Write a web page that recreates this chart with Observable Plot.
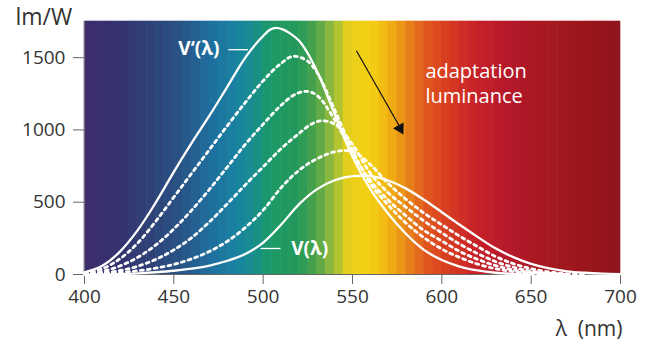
<!DOCTYPE html>
<html>
<head>
<meta charset="utf-8">
<script src="https://cdn.jsdelivr.net/npm/d3@7"></script>
<script src="https://cdn.jsdelivr.net/npm/@observablehq/plot@0.6"></script>
<style>
  html, body { margin: 0; padding: 0; background: #fff; }
  #chart { width: 653px; height: 348px; }
</style>
</head>
<body>
<div id="chart"></div>
<script>
// ---- axis ticks ----
const xTicks = [400, 450, 500, 550, 600, 650, 700];
const yTicks = [0, 500, 1000, 1500];

// ---- spectrum background colour stops ----
const specStops  = [400, 420, 440, 455, 470, 485, 495, 505, 520, 530, 540, 548, 560, 570, 580, 592, 605, 620, 640, 660, 680, 700];
const specColors = ["#3e2c6c", "#35336f", "#2d4479", "#285486", "#1f6e9d", "#1a82a2", "#178e8e", "#1c9a66", "#23985a", "#4ea448", "#9dbd3c", "#e8cf1c", "#f5d213", "#f1b515", "#e98a18", "#e0561e", "#d63a20", "#c6212a", "#b3182a", "#a5181f", "#9a161c", "#8e141b"];
const bandStep = 5;

// ---- V'(λ) scotopic (lm/W) ----
const scotWl  = [400, 410, 420, 430, 440, 450, 460, 470, 480, 490, 500, 504, 507, 511, 515, 520, 530, 540, 550, 560, 570, 580, 590, 600, 610, 620, 630, 640, 650];
const scotVal = [15, 60, 160, 310, 500, 710, 910, 1100, 1300, 1500, 1650, 1694, 1706, 1696, 1668, 1618, 1410, 1110, 815, 590, 420, 280, 170, 100, 55, 28, 12, 4, 0];

// ---- V(λ) photopic (lm/W) ----
const photWl  = [400, 410, 420, 430, 440, 450, 460, 470, 480, 490, 500, 510, 520, 530, 540, 550, 555, 560, 570, 580, 590, 600, 610, 620, 630, 640, 650, 660, 670, 680, 690, 700];
const photVal = [0.3, 0.8, 2.7, 7.9, 15.7, 26, 41, 62, 95, 142, 221, 344, 485, 589, 652, 680, 683, 680, 650, 594, 517, 431, 344, 260, 181, 120, 73, 42, 22, 12, 6, 3];

// ---- mesopic (dashed) curves, decreasing adaptation luminance ----
const mes1Wl  = [400, 410, 420, 430, 440, 450, 460, 470, 480, 490, 500, 510, 517, 525, 530, 540, 550, 560, 570, 580, 590, 600, 610, 620, 630, 640, 650, 660, 670];
const mes1Val = [10, 40, 110, 220, 370, 535, 700, 865, 1030, 1190, 1340, 1460, 1510, 1475, 1400, 1140, 860, 630, 480, 355, 255, 176, 118, 72, 40, 20, 8, 2, 0];

const mes2Wl  = [400, 410, 420, 430, 440, 450, 460, 470, 480, 490, 500, 510, 517, 524, 530, 540, 550, 560, 570, 580, 590, 600, 610, 620, 630, 640, 650, 660, 670];
const mes2Val = [6, 22, 60, 120, 205, 315, 445, 590, 745, 900, 1040, 1170, 1240, 1267, 1240, 1070, 840, 650, 515, 405, 305, 232, 160, 105, 62, 32, 14, 4, 0];

const mes3Wl  = [400, 410, 420, 430, 440, 450, 460, 470, 480, 490, 500, 510, 520, 527, 533, 540, 550, 560, 570, 580, 590, 600, 610, 620, 630, 640, 650, 660, 670];
const mes3Val = [3, 10, 28, 58, 105, 170, 255, 365, 490, 620, 745, 870, 975, 1040, 1064, 1040, 900, 700, 565, 465, 370, 288, 210, 145, 90, 50, 24, 8, 0];

const mes4Wl  = [400, 410, 420, 430, 440, 450, 460, 470, 480, 490, 500, 510, 520, 530, 540, 545, 550, 560, 570, 580, 590, 600, 610, 620, 630, 640, 650, 660, 670, 680];
const mes4Val = [2, 6, 14, 26, 44, 70, 108, 160, 230, 325, 445, 600, 720, 800, 848, 857, 850, 760, 630, 520, 425, 344, 265, 193, 125, 75, 40, 18, 5, 0];

// ---- build tables ----
const zip = (wl, v) => wl.map((w, i) => ({ wl: w, v: v[i] }));
const scot = zip(scotWl, scotVal);
const phot = zip(photWl, photVal);
const dashed = [zip(mes1Wl, mes1Val), zip(mes2Wl, mes2Val), zip(mes3Wl, mes3Val), zip(mes4Wl, mes4Val)];

const specScale = d3.scaleLinear().domain(specStops).range(specColors).interpolate(d3.interpolateRgb);
const bands = d3.range(specStops[0], specStops[specStops.length - 1], bandStep)
  .map(w => ({ x1: w, x2: w + bandStep, color: specScale(w + bandStep / 2) }));

const FONT = "'Open Sans', 'Noto Sans', sans-serif";
const TXT = "#333";
const CURVE = "monotone-x";

const marks = [
  Plot.rectY(bands, { x1: "x1", x2: "x2", y1: 0, y2: 1750, fill: "color", inset: -0.3 }),
  Plot.ruleX([400], { stroke: "#777", strokeWidth: 1 }),
  Plot.axisX({ ticks: xTicks, tickSize: 10, tickPadding: 5, tickFormat: d => String(d), fontSize: 19, color: TXT, stroke: "#666", label: null }),
  Plot.axisY({ ticks: yTicks, tickSize: 11, tickPadding: 8, tickFormat: d => String(d), fontSize: 19, color: TXT, stroke: "#666", label: null }),
  Plot.ruleY([0], { stroke: "#666", strokeWidth: 1.2 }),
  ...dashed.map(d => Plot.line(d, { x: "wl", y: "v", stroke: "white", strokeWidth: 2.8, strokeDasharray: "3,4", curve: CURVE })),
  Plot.line(scot, { x: "wl", y: "v", stroke: "white", strokeWidth: 2.3, curve: CURVE }),
  Plot.line(phot, { x: "wl", y: "v", stroke: "white", strokeWidth: 2.3, curve: CURVE }),
  // label leaders
  Plot.link([{ a: 480.5, b: 491.5, y: 1555 }], { x1: "a", x2: "b", y1: "y", y2: "y", stroke: "white", strokeWidth: 1.3 }),
  Plot.link([{ a: 498.5, b: 509.7, y: 180 }], { x1: "a", x2: "b", y1: "y", y2: "y", stroke: "white", strokeWidth: 1.3 }),
  Plot.text([{ x: 464, y: 1560, t: "V‘(λ)" }], { x: "x", y: "y", text: "t", fill: "white", fontSize: 19, fontWeight: 700, fontFamily: FONT }),
  Plot.text([{ x: 526, y: 176, t: "V(λ)" }], { x: "x", y: "y", text: "t", fill: "white", fontSize: 19, fontWeight: 700, fontFamily: FONT }),
  Plot.text([{ x: 590.8, y: 1405, t: "adaptation" }, { x: 590.8, y: 1230, t: "luminance" }], { x: "x", y: "y", text: "t", fill: "white", fontSize: 20, textAnchor: "start", fontFamily: FONT }),
  Plot.link([{ x1: 552.2, y1: 1548, x2: 576.5, y2: 1020 }], { x1: "x1", y1: "y1", x2: "x2", y2: "y2", stroke: "#111", strokeWidth: 1.2 }),
  Plot.dot([{ x: 576.6, y: 1010 }], { x: "x", y: "y", symbol: "triangle", r: 4.5, fill: "#111", stroke: "none", rotate: 151 }),
  // axis titles
  Plot.text(["lm/W"], { frameAnchor: "top-left", text: d => d, dx: -69, dy: -4, textAnchor: "start", lineAnchor: "middle", fontSize: 23, fill: TXT, fontFamily: FONT }),
  Plot.text(["λ  (nm)"], { frameAnchor: "bottom-right", text: d => d, dx: 2, dy: 61, textAnchor: "end", lineAnchor: "bottom", fontSize: 21, fill: TXT, fontFamily: FONT })
];

const chart = Plot.plot({
  width: 653,
  height: 348,
  marginLeft: 84,
  marginRight: 33,
  marginTop: 21,
  marginBottom: 74,
  style: { fontFamily: FONT, background: "white", overflow: "visible" },
  x: { domain: [400, 700] },
  y: { domain: [0, 1750] },
  marks
});
document.getElementById("chart").appendChild(chart);
</script>
</body>
</html>
